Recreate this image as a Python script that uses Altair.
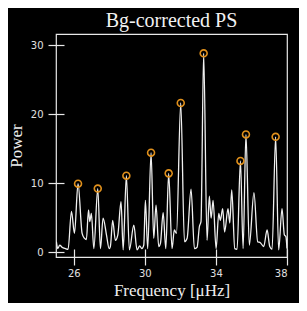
import altair as alt
import pandas as pd

# Power spectrum trace (frequency in µHz, power)
freq = [25.02, 25.10, 25.21, 25.34, 25.53, 25.68, 25.87, 26.04, 26.24, 26.47, 26.60, 26.71,
        26.83, 26.90, 26.99, 27.13, 27.35, 27.50, 27.65, 27.84, 27.99, 28.06, 28.19, 28.34,
        28.48, 28.66, 28.78, 28.96, 29.13, 29.38, 29.56, 29.71, 29.83, 29.94, 30.03, 30.16,
        30.35, 30.50, 30.63, 30.78, 30.88, 31.03, 31.18, 31.34, 31.53, 31.66, 31.78, 32.02,
        32.23, 32.38, 32.60, 32.79, 32.94, 33.07, 33.16, 33.31, 33.50, 33.63, 33.73, 33.84,
        34.01, 34.16, 34.25, 34.38, 34.49, 34.68, 34.78, 34.89, 35.06, 35.19, 35.38, 35.53,
        35.69, 35.88, 36.14, 36.35, 36.50, 36.69, 36.88, 37.03, 37.16, 37.36, 37.53, 37.72,
        37.85, 37.94, 38.00]
power = [1.5, 0.5, 1.0, 0.7, 0.5, 0.4, 5.9, 2.7, 9.9, 2.7, 2.0, 1.8,
         6.1, 4.4, 5.6, 0.5, 9.2, 0.5, 4.9, 2.5, 0.5, 0.8, 4.6, 1.7,
         2.5, 7.3, 0.3, 11.06, 0.3, 3.9, 0.3, 0.9, 0.5, 1.0, 7.5, 0.5,
         14.4, 2.0, 6.8, 0.8, 1.3, 5.7, 0.5, 11.4, 0.5, 3.2, 2.7, 21.6,
         1.5, 2.0, 9.1, 0.5, 0.7, 3.7, 4.4, 28.8, 1.7, 8.1, 4.9, 7.5,
         0.5, 5.6, 4.6, 6.3, 2.9, 6.3, 4.2, 9.0, 0.5, 0.4, 13.2, 0.5,
         17.05, 1.0, 8.6, 1.5, 1.35, 0.8, 3.2, 0.8, 0.4, 16.7, 0.3, 6.3,
         2.5, 2.2, 0.5]

# Marked peaks
peak_freq = [26.24, 27.35, 28.96, 30.35, 31.34, 32.02, 33.31, 35.38, 35.69, 37.36]
peak_power = [9.9, 9.2, 11.06, 14.4, 11.4, 21.6, 28.8, 13.2, 17.05, 16.7]

x_ticks = [26, 28, 30, 32, 34, 36, 38]
y_ticks = [0, 5, 10, 15, 20, 25, 30]

spec = pd.DataFrame({"f": freq, "p": power})
peaks = pd.DataFrame({"f": peak_freq, "p": peak_power})

xscale = alt.Scale(domain=[25, 38], nice=False, zero=False)
yscale = alt.Scale(domain=[-0.72, 31.6], nice=False, zero=False)

xaxis = alt.Axis(values=x_ticks, title="Frequency [μHz]", domain=False, grid=False,
                 offset=-8, tickSize=16, tickWidth=1.2, tickColor="#e8e8e8",
                 labelPadding=3, labelFont="DejaVu Sans", labelFontSize=10,
                 labelColor="#e0e0e0", titleFont="Liberation Serif", titleFontSize=17,
                 titleFontWeight="normal", titleColor="#eeeeee", titlePadding=4)
yaxis = alt.Axis(values=y_ticks, title="Power", domain=False, grid=False,
                 offset=-8, tickSize=16, tickWidth=1.2, tickColor="#e8e8e8",
                 labelPadding=5, labelFont="DejaVu Sans", labelFontSize=10,
                 labelColor="#e0e0e0", titleFont="Liberation Serif", titleFontSize=17,
                 titleFontWeight="normal", titleColor="#eeeeee", titlePadding=5)

line = alt.Chart(spec).mark_line(color="#f0f0f0", strokeWidth=1.3, interpolate="monotone", clip=True).encode(
    x=alt.X("f:Q", scale=xscale, axis=xaxis),
    y=alt.Y("p:Q", scale=yscale, axis=yaxis),
)

pts = alt.Chart(peaks).mark_point(shape="circle", filled=False, color="#e0901c",
                                  size=48, strokeWidth=1.6, opacity=1).encode(
    x=alt.X("f:Q", scale=xscale),
    y=alt.Y("p:Q", scale=yscale),
)

chart = alt.layer(line, pts).properties(
    width=231, height=223,
    title=alt.TitleParams("Bg-corrected PS", font="Liberation Serif", fontSize=20,
                          fontWeight="normal", color="#f2f2f2", anchor="middle", offset=3),
    autosize=alt.AutoSizeParams(type="none"),
    padding={"left": 48, "top": 26, "right": 12, "bottom": 46},
    background="black",
).configure_view(stroke="#e8e8e8", strokeWidth=1.2)

chart.save("out.html", embed_options={"renderer": "svg", "actions": False})
